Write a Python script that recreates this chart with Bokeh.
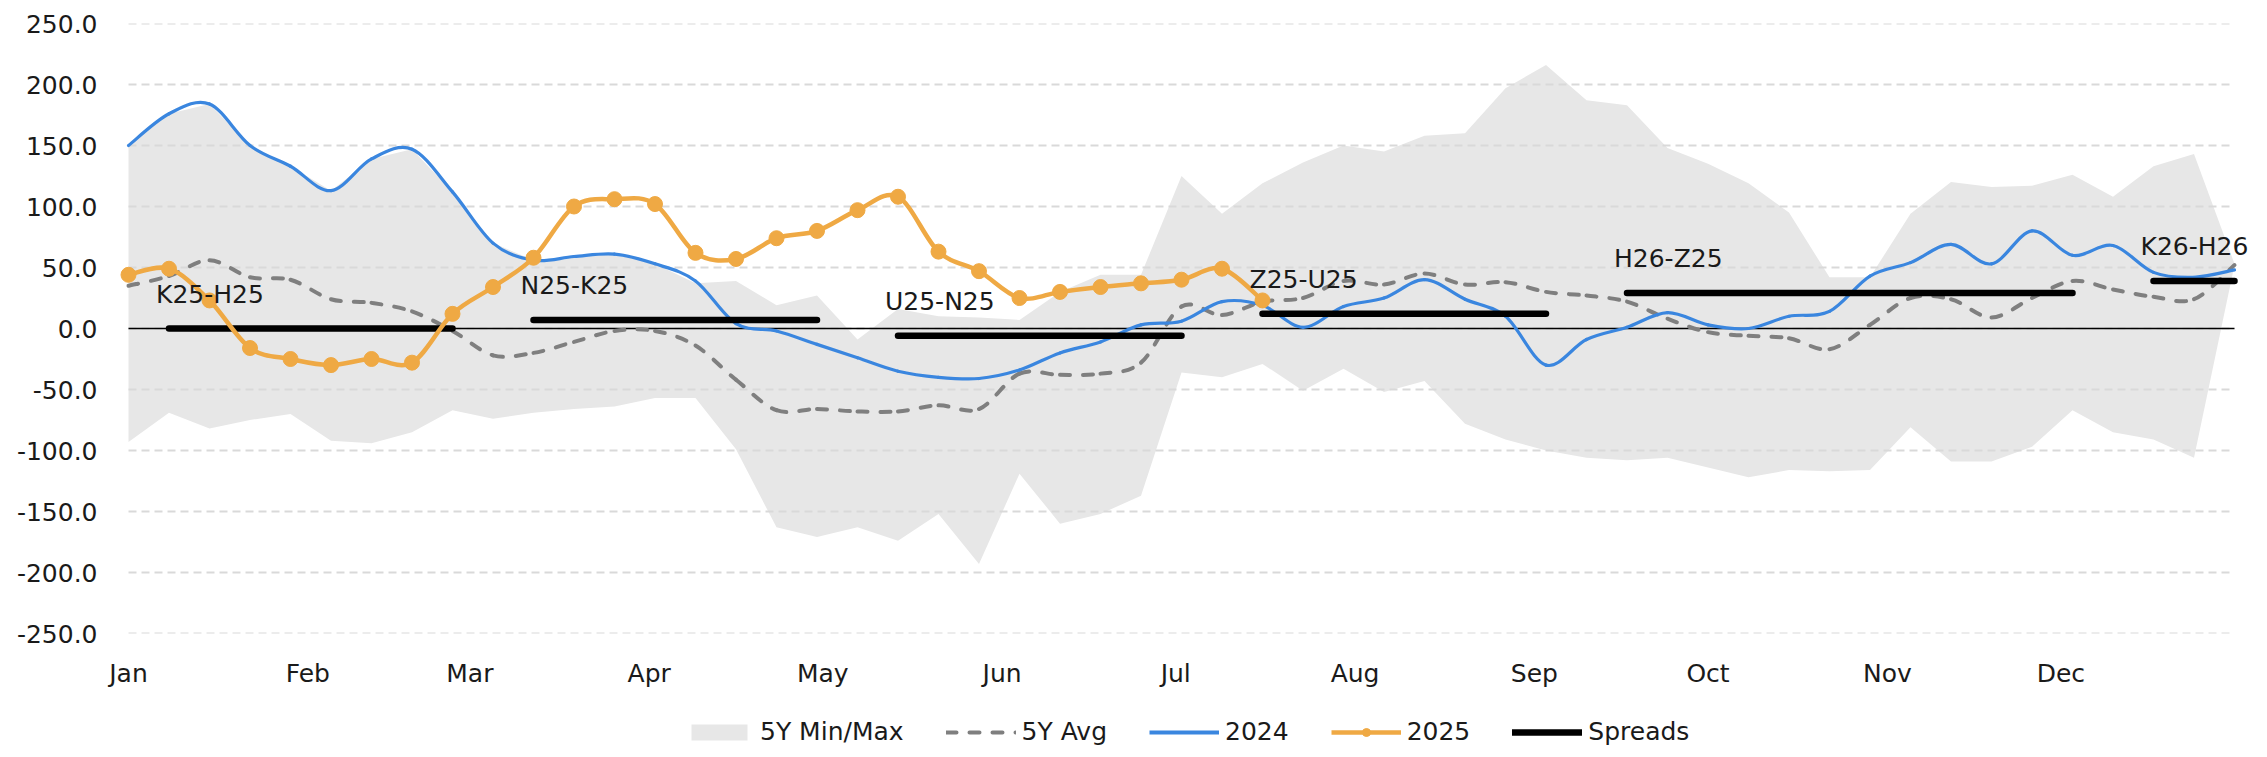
from bokeh.plotting import figure
from bokeh.layouts import column
from bokeh.models import (Range1d, FixedTicker, PrintfTickFormatter, Legend, LegendItem,
                          ColumnDataSource, LabelSet)
from bokeh.core.properties import value
from bokeh.embed import file_html
from bokeh.resources import INLINE

# ---------------- data ----------------
month_labels = ["Jan", "Feb", "Mar", "Apr", "May", "Jun",
                "Jul", "Aug", "Sep", "Oct", "Nov", "Dec"]
month_start_days = [0, 31, 59, 90, 120, 151, 181, 212, 243, 273, 304, 334]
y_ticks = [-250, -200, -150, -100, -50, 0, 50, 100, 150, 200, 250]

# weekly observation dates (day of year, Jan 1 = 0)
week_days = list(range(0, 365, 7))

band_max = [150, 176, 184, 150, 133, 113, 139, 147, 112, 70,
            56, 59, 61, 53, 37, 39, 19, 27, -9, 16,
            10, 9, 7, 30, 44, 44, 125, 94, 119, 136,
            150, 145, 158, 160, 197, 216, 187, 183, 148, 135,
            119, 95, 42, 42, 94, 120, 116, 117, 126, 108,
            133, 143, 53]
band_min = [-93, -69, -82, -75, -70, -92, -94, -85, -67, -74,
            -69, -66, -64, -57, -57, -99, -163, -171, -163, -174,
            -152, -193, -119, -160, -152, -137, -36, -40, -29, -51,
            -33, -52, -43, -78, -91, -100, -106, -108, -106, -114,
            -122, -116, -117, -116, -81, -109, -109, -97, -67, -85,
            -91, -106, 52]
avg_5y = [35, 43, 56, 42, 40, 24, 21, 14, -2, -22,
          -20, -11, -2, -2, -14, -42, -67, -66, -68, -68,
          -63, -66, -37, -38, -37, -28, 18, 11, 22, 25,
          39, 36, 45, 36, 38, 30, 27, 22, 8, -3,
          -6, -8, -17, 3, 25, 24, 9, 25, 39, 32,
          26, 24, 52]
y2024 = [150, 176, 184, 150, 133, 113, 139, 147, 112, 70,
         56, 59, 61, 53, 39, 4, -2, -13, -24, -35,
         -40, -41, -34, -20, -11, 3, 6, 22, 19, 1,
         18, 25, 40, 24, 10, -30, -9, 1, 13, 3,
         0, 10, 14, 43, 54, 69, 53, 80, 60, 68,
         46, 42, 48]
y2025 = [44, 49, 23, -16, -25, -30, -25, -28, 12, 34,
         58, 100, 106, 102, 62, 57, 74, 80, 97, 108,
         63, 47, 25, 30, 34, 37, 40, 49, 23]

spread_names = ["K25-H25", "N25-K25", "U25-N25", "Z25-U25", "H26-Z25", "K26-H26"]
spread_start = [7, 70, 133, 196, 259, 350]
spread_end = [56, 119, 182, 245, 336, 364]
spread_value = [0, 7, -6, 12, 29, 39]

legend_labels = ["5Y Min/Max", "5Y Avg", "2024", "2025", "Spreads"]

# ---------------- styling ----------------
FONT = "DejaVu Sans"
FSIZE = "25px"
TXT = "#1a1a1a"
BLUE = "#3a86df"
ORANGE = "#efa944"
BAND = "#e7e7e7"
AVG = "#7f7f7f"
GRID = "#d9d9d9"

PX_PER_DAY = 2106 / 364.0      # plot area: day 0 at x=128 px, day 364 at x=2234 px
LEFT = 118


def smooth(xs, ys):
    """Cubic Bezier pieces through the data points (Catmull-Rom style smoothing)."""
    n = len(xs)
    d = dict(x0=[], y0=[], x1=[], y1=[], cx0=[], cy0=[], cx1=[], cy1=[])
    for i in range(n - 1):
        a = i - 1 if i > 0 else i
        b = i + 2 if i + 2 < n else i + 1
        d["x0"].append(xs[i]); d["y0"].append(ys[i])
        d["x1"].append(xs[i + 1]); d["y1"].append(ys[i + 1])
        d["cx0"].append(xs[i] + (xs[i + 1] - xs[a]) / 6.0)
        d["cy0"].append(ys[i] + (ys[i + 1] - ys[a]) / 6.0)
        d["cx1"].append(xs[i + 1] - (xs[b] - xs[i]) / 6.0)
        d["cy1"].append(ys[i + 1] - (ys[b] - ys[i]) / 6.0)
    return ColumnDataSource(d)


W = 2267
H_MAIN = 690
H_LEG = 757 - H_MAIN

p = figure(width=W, height=H_MAIN,
           x_range=Range1d(-10 / PX_PER_DAY, 364 + 33 / PX_PER_DAY),
           y_range=Range1d(-250, 250),
           min_border_left=LEFT, min_border_right=0, min_border_top=23,
           min_border_bottom=H_MAIN - 633,
           output_backend="svg", toolbar_location=None)
p.outline_line_color = None
p.background_fill_color = "white"
p.xgrid.visible = False
p.ygrid.visible = False

# band
band = p.varea(x=week_days, y1=band_min, y2=band_max, fill_color=BAND, level="underlay")

# horizontal grid lines (at the y ticks) and zero line, spanning the year
grid_src = ColumnDataSource(dict(y=y_ticks, x0=[week_days[0]] * len(y_ticks),
                                 x1=[week_days[-1]] * len(y_ticks)))
p.segment(x0="x0", y0="y", x1="x1", y1="y", source=grid_src,
          line_color=GRID, line_width=2, line_dash="8 5")
p.segment(x0=[week_days[0]], y0=[0], x1=[week_days[-1]], y1=[0],
          line_color="black", line_width=1.5)

# 5Y avg
p.bezier(x0="x0", y0="y0", x1="x1", y1="y1", cx0="cx0", cy0="cy0",
         cx1="cx1", cy1="cy1", source=smooth(week_days, avg_5y),
         line_color=AVG, line_width=4, line_dash="10 13", line_cap="round")

# 2024
p.bezier(x0="x0", y0="y0", x1="x1", y1="y1", cx0="cx0", cy0="cy0",
         cx1="cx1", cy1="cy1", source=smooth(week_days, y2024),
         line_color=BLUE, line_width=3.2, line_cap="round")

# spreads
spread_src = ColumnDataSource(dict(x0=spread_start, x1=spread_end, y=spread_value,
                                   name=spread_names))
p.segment(x0="x0", y0="y", x1="x1", y1="y", source=spread_src,
          line_color="black", line_width=6.5, line_cap="round")

# 2025
days_2025 = week_days[:len(y2025)]
p.bezier(x0="x0", y0="y0", x1="x1", y1="y1", cx0="cx0", cy0="cy0",
         cx1="cx1", cy1="cy1", source=smooth(days_2025, y2025),
         line_color=ORANGE, line_width=4.5, line_cap="round")
p.scatter(x=days_2025, y=y2025, size=15, marker="circle",
          fill_color=ORANGE, line_color=ORANGE)

labels = LabelSet(x="x0", y="y", text="name", source=spread_src,
                  x_offset=-13, y_offset=26, text_align="left",
                  text_baseline="alphabetic", text_font=value(FONT),
                  text_font_size=value(FSIZE), text_color=value(TXT))
p.add_layout(labels)

# axes
p.xaxis.ticker = FixedTicker(ticks=month_start_days)
p.xaxis.major_label_overrides = {d: m for d, m in zip(month_start_days, month_labels)}
p.yaxis.ticker = FixedTicker(ticks=y_ticks)
p.yaxis.formatter = PrintfTickFormatter(format="%.1f")
for ax in (p.xaxis, p.yaxis):
    ax.axis_line_color = None
    ax.major_tick_line_color = None
    ax.minor_tick_line_color = None
    ax.major_tick_out = 0
    ax.major_tick_in = 0
    ax.major_label_text_font = FONT
    ax.major_label_text_font_size = FSIZE
    ax.major_label_text_color = TXT
p.xaxis.major_label_standoff = 25
p.yaxis.major_label_standoff = 21

# ---------------- legend strip ----------------
# (the legend keys are hidden copies of the series, drawn only in the legend)
lg = figure(width=W, height=H_LEG, x_range=Range1d(0, 1), y_range=Range1d(0, 1),
            min_border=0, x_axis_location=None, y_axis_location=None,
            output_backend="svg", toolbar_location=None)
lg.outline_line_color = None
lg.xgrid.visible = False
lg.ygrid.visible = False
k_band = lg.varea(x=week_days, y1=band_min, y2=band_max, fill_color=BAND, visible=False)
k_avg = lg.line(x=week_days, y=avg_5y, line_color=AVG, line_width=4, line_dash="10 13",
                line_cap="round", visible=False)
k_2024 = lg.line(x=week_days, y=y2024, line_color=BLUE, line_width=4, visible=False)
k_2025 = lg.line(x=days_2025, y=y2025, line_color=ORANGE, line_width=4.5, visible=False)
k_2025m = lg.scatter(x=days_2025, y=y2025, size=15, marker="circle",
                     fill_color=ORANGE, line_color=ORANGE, visible=False)
k_spr = lg.segment(x0=spread_start, y0=spread_value, x1=spread_end, y1=spread_value,
                   line_color="black", line_width=6.5, line_cap="round", visible=False)

legend = Legend(items=[
    LegendItem(label=legend_labels[0], renderers=[k_band]),
    LegendItem(label=legend_labels[1], renderers=[k_avg]),
    LegendItem(label=legend_labels[2], renderers=[k_2024]),
    LegendItem(label=legend_labels[3], renderers=[k_2025, k_2025m]),
    LegendItem(label=legend_labels[4], renderers=[k_spr]),
], orientation="horizontal", location=(684 - LEFT, 11),
    glyph_width=70, glyph_height=20, label_standoff=6, spacing=42,
    padding=0, margin=0, border_line_color=None, background_fill_alpha=0,
    inactive_fill_alpha=0, click_policy="none",
    label_text_font=FONT, label_text_font_size=FSIZE, label_text_color=TXT)
lg.add_layout(legend)

layout = column(p, lg, spacing=0)
open("out.html", "w").write(file_html(layout, INLINE))
